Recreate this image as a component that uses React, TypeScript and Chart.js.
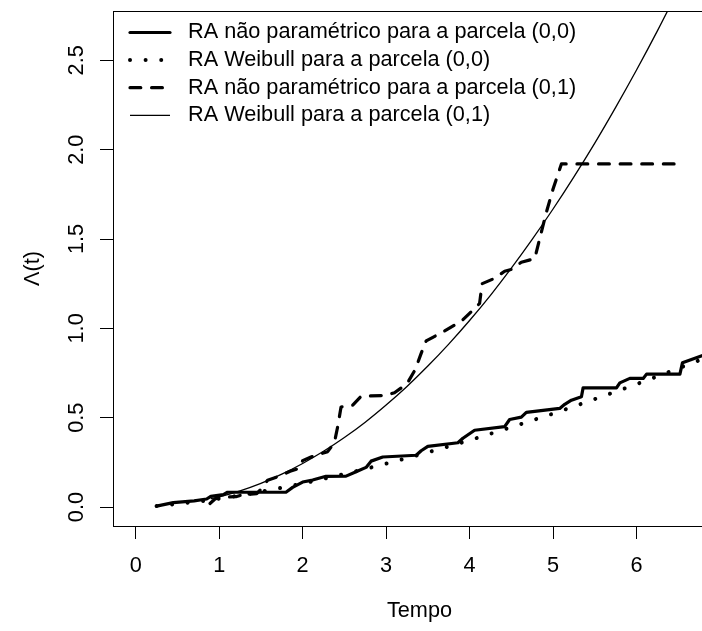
import React, { useEffect, useRef } from "react";
import { Chart, registerables } from "chart.js";

Chart.register(...registerables);

// ---- data ----
const NP00_T = [0.25, 0.45, 0.7, 0.85, 0.9, 1.05, 1.1, 1.8, 1.88, 2.0, 2.12, 2.28, 2.52, 2.64, 2.76, 2.82, 2.96, 3.36, 3.42, 3.5, 3.86, 3.92, 4.06, 4.42, 4.48, 4.62, 4.68, 5.08, 5.14, 5.22, 5.34, 5.36, 5.76, 5.8, 5.92, 6.08, 6.12, 6.52, 6.55, 6.8];
const NP00_V = [0.005, 0.025, 0.035, 0.045, 0.06, 0.07, 0.083, 0.083, 0.11, 0.14, 0.151, 0.172, 0.173, 0.198, 0.222, 0.257, 0.28, 0.29, 0.315, 0.34, 0.36, 0.385, 0.43, 0.45, 0.49, 0.503, 0.53, 0.552, 0.575, 0.598, 0.617, 0.667, 0.667, 0.695, 0.72, 0.72, 0.744, 0.744, 0.807, 0.85];

const WB00_T = [0.25, 0.5, 1, 1.5, 2, 2.5, 3, 3.5, 4, 4.5, 5, 5.5, 6, 6.5, 6.8];
const WB00_V = [0.006, 0.017, 0.047, 0.086, 0.132, 0.185, 0.243, 0.306, 0.374, 0.447, 0.523, 0.604, 0.688, 0.776, 0.83];

const NP01_T = [0.89, 0.95, 1.0, 1.2, 1.25, 1.45, 1.5, 1.58, 1.7, 1.85, 1.95, 2.0, 2.1, 2.3, 2.38, 2.42, 2.46, 2.6, 2.7, 3.0, 3.1, 3.25, 3.35, 3.42, 3.48, 3.6, 3.7, 3.9, 4.08, 4.12, 4.15, 4.3, 4.42, 4.5, 4.62, 4.78, 4.85, 4.92, 5.0, 5.1, 6.45];
const NP01_V = [0.02, 0.045, 0.055, 0.058, 0.065, 0.075, 0.1, 0.15, 0.17, 0.2, 0.215, 0.26, 0.28, 0.31, 0.36, 0.45, 0.56, 0.57, 0.62, 0.625, 0.64, 0.69, 0.77, 0.86, 0.93, 0.96, 0.985, 1.04, 1.12, 1.14, 1.25, 1.28, 1.32, 1.33, 1.37, 1.39, 1.52, 1.65, 1.78, 1.92, 1.92];

const WB01_T = [0.9, 1.0, 1.25, 1.5, 1.75, 2.0, 2.25, 2.5, 2.75, 3.0, 3.25, 3.5, 3.75, 4.0, 4.25, 4.5, 4.75, 5.0, 5.25, 5.5, 5.75, 6.0, 6.25, 6.5];
const WB01_V = [0.046, 0.057, 0.091, 0.133, 0.184, 0.244, 0.312, 0.389, 0.475, 0.571, 0.675, 0.789, 0.912, 1.044, 1.185, 1.337, 1.498, 1.668, 1.848, 2.037, 2.237, 2.446, 2.665, 2.894];

const LEGEND_LABELS = [
  "RA não paramétrico para a parcela (0,0)",
  "RA Weibull para a parcela (0,0)",
  "RA não paramétrico para a parcela (0,1)",
  "RA Weibull para a parcela (0,1)",
];

const X_TICKS = [0, 1, 2, 3, 4, 5, 6];
const X_TICK_LABELS = ["0", "1", "2", "3", "4", "5", "6"];
const Y_TICKS = [0, 0.5, 1, 1.5, 2, 2.5];
const Y_TICK_LABELS = ["0.0", "0.5", "1.0", "1.5", "2.0", "2.5"];

const X_MIN = -0.272;
const X_MAX = 7.072;
const Y_MIN = -0.106;
const Y_MAX = 2.776;

const X_TITLE = "Tempo";
const Y_TITLE = "Λ(t)";

// ---- styling ----
const FAMILY = '"Liberation Sans", Arial, Helvetica, sans-serif';
const FS = 21.7;

function pts(t: number[], v: number[]) {
  const n = Math.min(t.length, v.length);
  const out: { x: number; y: number }[] = [];
  for (let i = 0; i < n; i++) out.push({ x: t[i], y: v[i] });
  return out;
}

const framePlugin = {
  id: "rframe",
  afterDraw(chart: any) {
    const { ctx, chartArea: a, scales } = chart;
    ctx.save();
    // box
    ctx.strokeStyle = "#000";
    ctx.lineWidth = 1;
    ctx.setLineDash([]);
    ctx.strokeRect(
      Math.round(a.left) + 0.5,
      Math.round(a.top) + 0.5,
      Math.round(a.right - a.left),
      Math.round(a.bottom - a.top)
    );
    // rotated y tick labels
    const ys = scales.y;
    ctx.font = `${FS}px ${FAMILY}`;
    ctx.fillStyle = "#000";
    ctx.textAlign = "center";
    ctx.textBaseline = "middle";
    Y_TICKS.forEach((v, i) => {
      const py = ys.getPixelForValue(v);
      ctx.save();
      ctx.translate(a.left - 36, py);
      ctx.rotate(-Math.PI / 2);
      ctx.fillText(Y_TICK_LABELS[i], 0, 0);
      ctx.restore();
    });
    // legend (topleft, no box)
    chart.data.datasets.forEach((ds: any, i: number) => {
      const y = a.top + 21.5 + i * 27.6;
      ctx.save();
      ctx.beginPath();
      ctx.strokeStyle = "#000";
      ctx.lineWidth = ds.borderWidth;
      ctx.lineCap = ds.borderCapStyle || "butt";
      ctx.setLineDash(ds.borderDash || []);
      ctx.moveTo(a.left + 17, y);
      ctx.lineTo(a.left + 57, y);
      ctx.stroke();
      ctx.restore();
      ctx.fillStyle = "#000";
      ctx.textAlign = "left";
      ctx.textBaseline = "middle";
      ctx.fillText(LEGEND_LABELS[i], a.left + 75, y);
    });
    ctx.restore();
  },
};

export default function App() {
  const ref = useRef<HTMLCanvasElement | null>(null);

  useEffect(() => {
    const canvas = ref.current;
    if (!canvas) return;
    const font = { family: FAMILY, size: FS };
    const chart = new Chart(canvas, {
      type: "line",
      data: {
        datasets: [
          {
            label: LEGEND_LABELS[0],
            data: pts(NP00_T, NP00_V),
            borderColor: "#000",
            borderWidth: 3.2,
            borderCapStyle: "round",
            borderJoinStyle: "round",
            pointRadius: 0,
            tension: 0,
            clip: 0,
          },
          {
            label: LEGEND_LABELS[1],
            data: pts(WB00_T, WB00_V),
            borderColor: "#000",
            borderWidth: 4,
            borderCapStyle: "round",
            borderDash: [0.01, 15.6],
            pointRadius: 0,
            cubicInterpolationMode: "monotone",
            clip: 0,
          },
          {
            label: LEGEND_LABELS[2],
            data: pts(NP01_T, NP01_V),
            borderColor: "#000",
            borderWidth: 3.2,
            borderCapStyle: "round",
            borderJoinStyle: "round",
            borderDash: [10.8, 10.8],
            pointRadius: 0,
            tension: 0,
            clip: 0,
          },
          {
            label: LEGEND_LABELS[3],
            data: pts(WB01_T, WB01_V),
            borderColor: "#000",
            borderWidth: 1.3,
            pointRadius: 0,
            cubicInterpolationMode: "monotone",
            clip: 0,
          },
        ],
      } as any,
      plugins: [framePlugin],
      options: {
        animation: false,
        responsive: false,
        devicePixelRatio: 1,
        parsing: true,
        layout: { padding: { left: 0, right: 4, top: 11, bottom: 0 } },
        plugins: {
          legend: { display: false },
          tooltip: { enabled: false },
        },
        scales: {
          x: {
            type: "linear",
            min: X_MIN,
            max: X_MAX,
            afterBuildTicks: (s: any) => {
              s.ticks = X_TICKS.map((v) => ({ value: v }));
            },
            afterFit: (s: any) => {
              s.height = 105;
            },
            grid: {
              display: true,
              drawOnChartArea: false,
              drawTicks: true,
              tickLength: 13,
              color: "#000",
              lineWidth: 1,
            },
            border: { display: true, color: "#000", width: 1 },
            ticks: {
              font,
              color: "#000",
              padding: 14,
              autoSkip: false,
              maxRotation: 0,
              minRotation: 0,
              includeBounds: false,
              callback: (v: any) => {
                const i = X_TICKS.indexOf(Number(v));
                return i >= 0 ? X_TICK_LABELS[i] : "";
              },
            },
            title: {
              display: true,
              text: X_TITLE,
              font,
              color: "#000",
              padding: { top: 0, bottom: 7 },
            },
          },
          y: {
            type: "linear",
            min: Y_MIN,
            max: Y_MAX,
            afterBuildTicks: (s: any) => {
              s.ticks = Y_TICKS.map((v) => ({ value: v }));
            },
            afterFit: (s: any) => {
              s.width = 113;
            },
            grid: {
              display: true,
              drawOnChartArea: false,
              drawTicks: true,
              tickLength: 13,
              color: "#000",
              lineWidth: 1,
            },
            border: { display: true, color: "#000", width: 1 },
            ticks: { display: false, includeBounds: false },
            title: {
              display: true,
              text: Y_TITLE,
              font,
              color: "#000",
              padding: { top: 20, bottom: 0 },
            },
          },
        },
      } as any,
    });
    return () => chart.destroy();
  }, []);

  return (
    <div
      style={{
        position: "absolute",
        left: 0,
        top: 0,
        width: 702,
        height: 631,
        overflow: "hidden",
        background: "#fff",
      }}
    >
      <canvas ref={ref} width={730} height={631} style={{ display: "block", width: 730, height: 631 }} />
    </div>
  );
}
